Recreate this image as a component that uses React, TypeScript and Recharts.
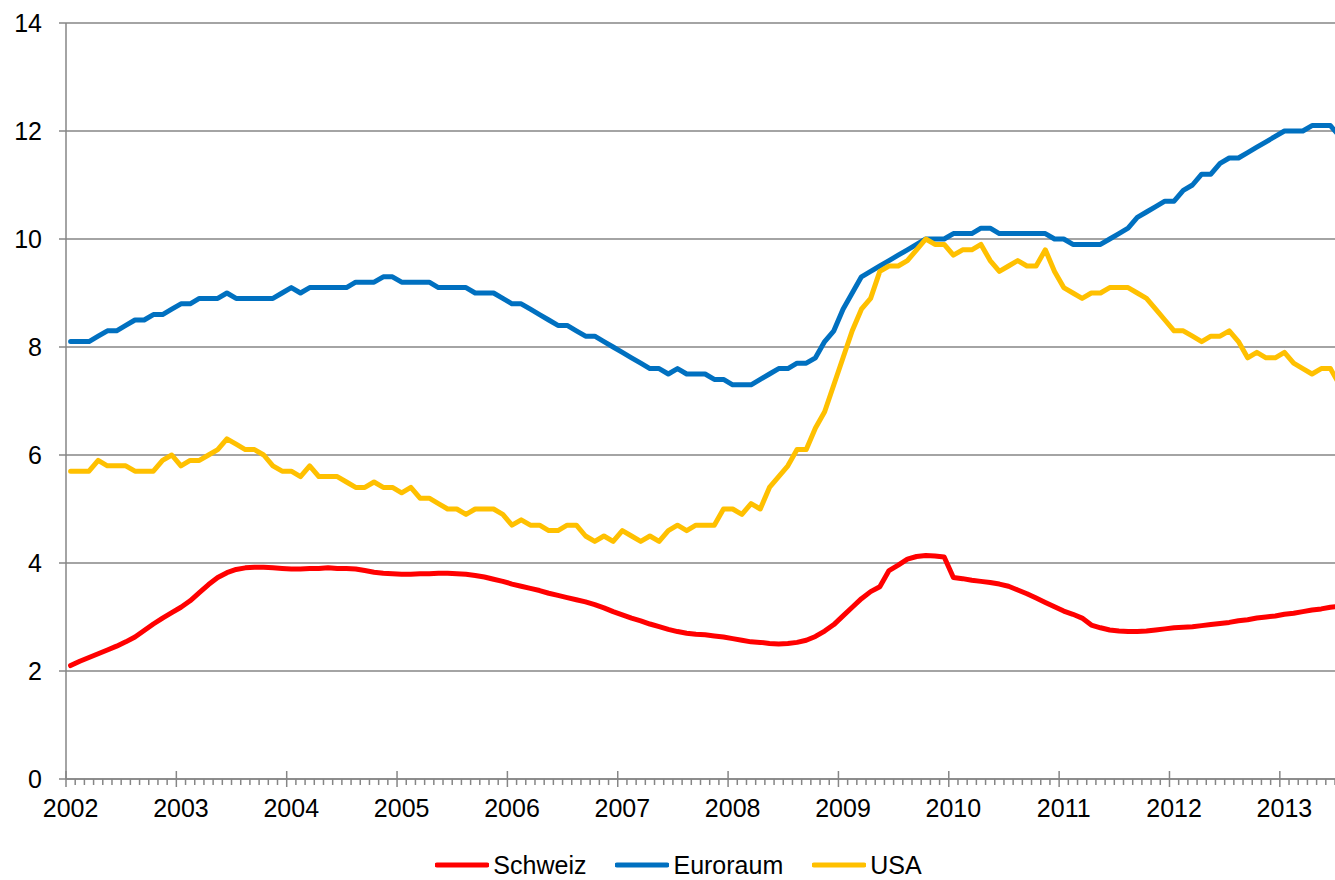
import React from 'react';
import { LineChart, Line, XAxis, YAxis, CartesianGrid, Legend } from 'recharts';

// Monthly values, Jan 2002 .. Jul 2013
const schweiz = [
  2.1, 2.18, 2.25, 2.32, 2.39, 2.46, 2.54, 2.63, 2.75, 2.87, 2.98, 3.08,
  3.18, 3.3, 3.45, 3.6, 3.73, 3.82, 3.88, 3.91, 3.92, 3.92, 3.91, 3.9,
  3.89, 3.89, 3.9, 3.9, 3.91, 3.9, 3.9, 3.89, 3.86, 3.83, 3.81, 3.8,
  3.79, 3.79, 3.8, 3.8, 3.81, 3.81, 3.8, 3.79, 3.77, 3.74, 3.7, 3.66,
  3.61, 3.57, 3.53, 3.49, 3.44, 3.4, 3.36, 3.32, 3.28, 3.23, 3.17, 3.1,
  3.04, 2.98, 2.93, 2.87, 2.82, 2.77, 2.73, 2.7, 2.68, 2.67, 2.65, 2.63,
  2.6, 2.57, 2.54, 2.53, 2.51, 2.5, 2.51, 2.53, 2.57, 2.64, 2.74, 2.86,
  3.02, 3.18, 3.34, 3.47, 3.56, 3.86, 3.96, 4.07, 4.12, 4.14, 4.13, 4.11,
  3.73, 3.71, 3.68, 3.66, 3.64, 3.61, 3.57, 3.5, 3.43, 3.35, 3.27, 3.19,
  3.11, 3.05, 2.98, 2.85, 2.8, 2.76, 2.74, 2.73, 2.73, 2.74, 2.76, 2.78,
  2.8, 2.81, 2.82, 2.84, 2.86, 2.88, 2.9, 2.93, 2.95, 2.98, 3.0, 3.02,
  3.05, 3.07, 3.1, 3.13, 3.15, 3.18, 3.2,
];

const euroraum = [
  8.1, 8.1, 8.1, 8.2, 8.3, 8.3, 8.4, 8.5, 8.5, 8.6, 8.6, 8.7,
  8.8, 8.8, 8.9, 8.9, 8.9, 9.0, 8.9, 8.9, 8.9, 8.9, 8.9, 9.0,
  9.1, 9.0, 9.1, 9.1, 9.1, 9.1, 9.1, 9.2, 9.2, 9.2, 9.3, 9.3,
  9.2, 9.2, 9.2, 9.2, 9.1, 9.1, 9.1, 9.1, 9.0, 9.0, 9.0, 8.9,
  8.8, 8.8, 8.7, 8.6, 8.5, 8.4, 8.4, 8.3, 8.2, 8.2, 8.1, 8.0,
  7.9, 7.8, 7.7, 7.6, 7.6, 7.5, 7.6, 7.5, 7.5, 7.5, 7.4, 7.4,
  7.3, 7.3, 7.3, 7.4, 7.5, 7.6, 7.6, 7.7, 7.7, 7.8, 8.1, 8.3,
  8.7, 9.0, 9.3, 9.4, 9.5, 9.6, 9.7, 9.8, 9.9, 10.0, 10.0, 10.0,
  10.1, 10.1, 10.1, 10.2, 10.2, 10.1, 10.1, 10.1, 10.1, 10.1, 10.1, 10.0,
  10.0, 9.9, 9.9, 9.9, 9.9, 10.0, 10.1, 10.2, 10.4, 10.5, 10.6, 10.7,
  10.7, 10.9, 11.0, 11.2, 11.2, 11.4, 11.5, 11.5, 11.6, 11.7, 11.8, 11.9,
  12.0, 12.0, 12.0, 12.1, 12.1, 12.1, 11.9,
];

const usa = [
  5.7, 5.7, 5.7, 5.9, 5.8, 5.8, 5.8, 5.7, 5.7, 5.7, 5.9, 6.0,
  5.8, 5.9, 5.9, 6.0, 6.1, 6.3, 6.2, 6.1, 6.1, 6.0, 5.8, 5.7,
  5.7, 5.6, 5.8, 5.6, 5.6, 5.6, 5.5, 5.4, 5.4, 5.5, 5.4, 5.4,
  5.3, 5.4, 5.2, 5.2, 5.1, 5.0, 5.0, 4.9, 5.0, 5.0, 5.0, 4.9,
  4.7, 4.8, 4.7, 4.7, 4.6, 4.6, 4.7, 4.7, 4.5, 4.4, 4.5, 4.4,
  4.6, 4.5, 4.4, 4.5, 4.4, 4.6, 4.7, 4.6, 4.7, 4.7, 4.7, 5.0,
  5.0, 4.9, 5.1, 5.0, 5.4, 5.6, 5.8, 6.1, 6.1, 6.5, 6.8, 7.3,
  7.8, 8.3, 8.7, 8.9, 9.4, 9.5, 9.5, 9.6, 9.8, 10.0, 9.9, 9.9,
  9.7, 9.8, 9.8, 9.9, 9.6, 9.4, 9.5, 9.6, 9.5, 9.5, 9.8, 9.4,
  9.1, 9.0, 8.9, 9.0, 9.0, 9.1, 9.1, 9.1, 9.0, 8.9, 8.7, 8.5,
  8.3, 8.3, 8.2, 8.1, 8.2, 8.2, 8.3, 8.1, 7.8, 7.9, 7.8, 7.8,
  7.9, 7.7, 7.6, 7.5, 7.6, 7.6, 7.3,
];

const years = ['2002', '2003', '2004', '2005', '2006', '2007', '2008', '2009', '2010', '2011', '2012', '2013'];
const yTicks = [0, 2, 4, 6, 8, 10, 12, 14];
const monthCount = 138;

const monthLabels = schweiz.map((_, i) => `${2002 + Math.floor(i / 12)}-${String((i % 12) + 1).padStart(2, '0')}`);
const data = schweiz.map((v, i) => ({
  t: i + 0.5,
  month: monthLabels[i],
  Schweiz: v,
  Euroraum: euroraum[i],
  USA: usa[i],
}));
const monthTicks = Array.from({ length: monthCount + 1 }, (_, i) => i);

const FONT = '"Liberation Sans", Arial, sans-serif';
const AXIS = '#868686';

const series = [
  { key: 'Schweiz', color: '#FF0000' },
  { key: 'Euroraum', color: '#0070C0' },
  { key: 'USA', color: '#FFC000' },
];

const XTick = (props: any) => {
  const { x, y, payload } = props;
  const v = payload.value as number;
  const major = v % 12 === 0;
  const idx = v / 12;
  return (
    <g>
      {major ? (
        <line x1={x} x2={x} y1={y - 8} y2={y + 8} stroke={AXIS} strokeWidth={1.5} />
      ) : (
        <line x1={x} x2={x} y1={y} y2={y + 6} stroke={AXIS} strokeWidth={1.5} />
      )}
      {major && idx < years.length && (
        <text x={x + 4.6} y={y + 38} textAnchor="middle" fill="#000" fontSize={25} fontFamily={FONT}>
          {years[idx]}
        </text>
      )}
    </g>
  );
};

const LegendContent = () => (
  <div
    style={{
      height: 50,
      boxSizing: 'border-box',
      paddingTop: 20,
      paddingLeft: 22,
      display: 'flex',
      justifyContent: 'center',
      alignItems: 'center',
      fontFamily: FONT,
      fontSize: 25,
      lineHeight: '30px',
      color: '#000',
    }}
  >
    {series.map((s, i) => (
      <div key={s.key} style={{ display: 'flex', alignItems: 'center', marginLeft: i === 0 ? 0 : 29 }}>
        <svg width={54} height={10} style={{ marginRight: 4 }}>
          <line x1={2} x2={52} y1={5} y2={5} stroke={s.color} strokeWidth={5} strokeLinecap="round" />
        </svg>
        <span>{s.key}</span>
      </div>
    ))}
  </div>
);

export default function App() {
  return (
    <div style={{ position: 'absolute', left: 0, top: 0, width: 1335, height: 880, background: '#fff' }}>
      <LineChart width={1335} height={880} data={data} margin={{ top: 23, right: 0, bottom: 0, left: 0 }}>
        <CartesianGrid horizontal vertical={false} stroke={AXIS} strokeWidth={1.5} />
        <XAxis
          type="number"
          dataKey="t"
          domain={[0, monthCount]}
          allowDataOverflow
          ticks={monthTicks}
          interval={0}
          tickLine={false}
          tickSize={0}
          tickMargin={0}
          height={51}
          axisLine={{ stroke: AXIS, strokeWidth: 1.5 }}
          tick={<XTick />}
        />
        <YAxis
          type="number"
          domain={[0, 14]}
          ticks={yTicks}
          interval={0}
          width={66}
          tickSize={7}
          tickMargin={17}
          axisLine={{ stroke: AXIS, strokeWidth: 1.5 }}
          tickLine={{ stroke: AXIS, strokeWidth: 1.5 }}
          tick={{ fill: '#000', fontSize: 25, fontFamily: FONT }}
        />
        <Legend verticalAlign="bottom" height={50} content={<LegendContent />} />
        {series.map((s) => (
          <Line
            key={s.key}
            type="linear"
            dataKey={s.key}
            stroke={s.color}
            strokeWidth={5}
            strokeLinecap="round"
            strokeLinejoin="round"
            dot={false}
            activeDot={false}
            isAnimationActive={false}
          />
        ))}
      </LineChart>
    </div>
  );
}
